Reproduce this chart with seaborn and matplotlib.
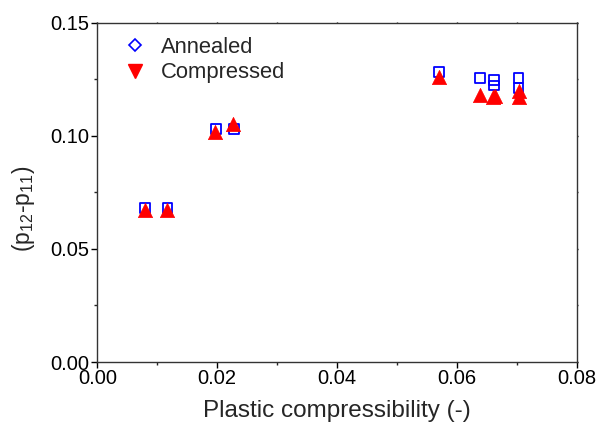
import matplotlib
matplotlib.use("Agg")
import matplotlib.pyplot as plt
from matplotlib.lines import Line2D
from matplotlib.ticker import MultipleLocator, FormatStrFormatter
import seaborn as sns
import pandas as pd

sns.set_style("ticks")
plt.rcParams['font.family'] = ['Liberation Sans', 'DejaVu Sans']
plt.rcParams['mathtext.fontset'] = 'custom'
plt.rcParams['mathtext.rm'] = 'Liberation Sans'
plt.rcParams['mathtext.it'] = 'Liberation Sans:italic'

# Data
annealed_x = [0.0080, 0.0117, 0.0198, 0.0228, 0.0570, 0.0639, 0.0662, 0.0662, 0.0703, 0.0703]
annealed_y = [0.0680, 0.0680, 0.1030, 0.1030, 0.1283, 0.1255, 0.1247, 0.1222, 0.1255, 0.1212]
compressed_x = [0.0080, 0.0117, 0.0197, 0.0227, 0.0570, 0.0638, 0.0661, 0.0663, 0.0703, 0.0704]
compressed_y = [0.0672, 0.0672, 0.1017, 0.1050, 0.1260, 0.1180, 0.1170, 0.1178, 0.1172, 0.1200]
series_labels = ["Annealed", "Compressed"]

df_a = pd.DataFrame({"x": annealed_x, "y": annealed_y})
df_c = pd.DataFrame({"x": compressed_x, "y": compressed_y})

fig = plt.figure(figsize=(5.99, 4.28), dpi=100)
ax = fig.add_axes([0.1624, 0.1542, 0.8004, 0.7928])

sns.scatterplot(data=df_a, x="x", y="y", ax=ax, marker="s", s=48,
                facecolor="none", edgecolor="#0000ff", linewidth=1.3, legend=False, zorder=2)
sns.scatterplot(data=df_c, x="x", y="y", ax=ax, marker="^", s=105,
                color="#ff0000", edgecolor="#ff0000", linewidth=0.5, legend=False, zorder=3)

ax.set_xlim(0, 0.08)
ax.set_ylim(0, 0.15)
ax.xaxis.set_major_locator(MultipleLocator(0.02))
ax.xaxis.set_minor_locator(MultipleLocator(0.01))
ax.yaxis.set_major_locator(MultipleLocator(0.05))
ax.yaxis.set_minor_locator(MultipleLocator(0.025))
ax.xaxis.set_major_formatter(FormatStrFormatter('%.2f'))
ax.yaxis.set_major_formatter(FormatStrFormatter('%.2f'))

ax.tick_params(which='major', direction='out', length=4, width=1, labelsize=14.5, colors='black')
ax.tick_params(which='minor', direction='out', length=2.5, width=1)
ax.tick_params(axis='x', which='major', pad=1)
ax.tick_params(axis='y', which='major', pad=2)
ax.xaxis.set_tick_params(which='both', top=True, labeltop=False)
ax.yaxis.set_tick_params(which='both', right=True, labelright=False)
for t in ax.xaxis.get_major_ticks() + ax.xaxis.get_minor_ticks():
    t.tick2line.set_markersize(1)
for t in ax.yaxis.get_major_ticks() + ax.yaxis.get_minor_ticks():
    t.tick2line.set_markersize(1)

for sp in ax.spines.values():
    sp.set_linewidth(1.0)
    sp.set_color('#333333')
    sp.set_visible(True)

ax.set_xlabel("Plastic compressibility (-)", fontsize=17.5, labelpad=9)
ax.set_ylabel(r"(p$_{12}$-p$_{11}$)", fontsize=16.5)
ax.yaxis.set_label_coords(-0.125, 0.45)

handles = [
    Line2D([], [], linestyle='none', marker='D', markersize=6.5, markerfacecolor='none',
           markeredgecolor='#0000ff', markeredgewidth=1.2),
    Line2D([], [], linestyle='none', marker='v', markersize=10, markerfacecolor='#ff0000',
           markeredgecolor='#ff0000'),
]
ax.legend(handles, series_labels, loc='upper left', frameon=False, fontsize=15.8,
          bbox_to_anchor=(0.0, 1.01), handletextpad=0.3, handlelength=1.8, labelspacing=0.2,
          borderaxespad=0.4)

fig.savefig("out.png", dpi=100)
